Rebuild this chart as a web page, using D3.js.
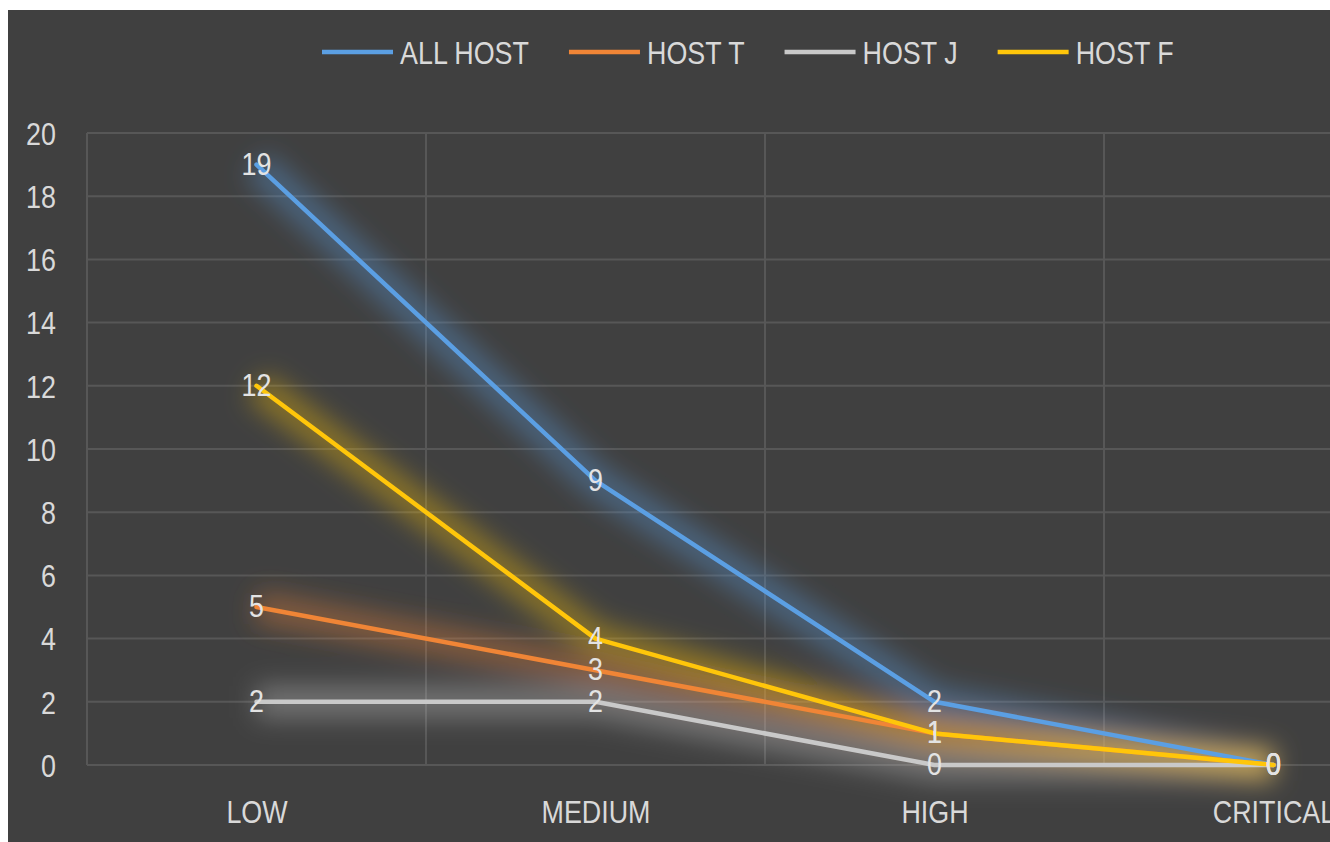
<!DOCTYPE html>
<html>
<head>
<meta charset="utf-8">
<script src="https://cdn.jsdelivr.net/npm/d3@7/dist/d3.min.js"></script>
<style>
  html, body { margin: 0; padding: 0; background: #ffffff; }
  svg { display: block; }
  text { font-family: "Liberation Sans", Arial, sans-serif; }
</style>
</head>
<body>
<svg id="chart" width="1330" height="842"></svg>
<script>
// Severity categories along the x axis
const categories = ["LOW", "MEDIUM", "HIGH", "CRITICAL"];

// Findings per host, one value per category
const allHost = [19, 9, 2, 0];
const hostT   = [5, 3, 1, 0];
const hostJ   = [2, 2, 0, 0];
const hostF   = [12, 4, 1, 0];

const seriesNames  = ["ALL HOST", "HOST T", "HOST J", "HOST F"];
const seriesValues = [allHost, hostT, hostJ, hostF];
const seriesColors = ["#5b9fe3", "#f08536", "#c9c9c9", "#ffc60a"];

const yTicks = [0, 2, 4, 6, 8, 10, 12, 14, 16, 18, 20];

const W = 1330, H = 842;
const NARROW = 0.84;           // horizontal squeeze for a condensed look
const svg = d3.select("#chart");

// Squeeze a text element horizontally, keeping its anchor in place
function condense(sel) {
  sel.each(function () {
    const len = this.getComputedTextLength();
    d3.select(this).attr("textLength", len * NARROW).attr("lengthAdjust", "spacingAndGlyphs");
  });
}

// Dark panel with a thin white margin on the top and left
svg.append("rect").attr("x", 8).attr("y", 10).attr("width", W - 8).attr("height", H - 10)
  .attr("fill", "#404040");

// Plot area runs past the right edge of the panel
const plotLeft = 87, plotRight = 1443, plotTop = 133, plotBottom = 765;

const x = d3.scalePoint().domain(categories).range([plotLeft, plotRight]).padding(0.5);
const y = d3.scaleLinear().domain([0, 20]).range([plotBottom, plotTop]);
const step = x.step();

const defs = svg.append("defs");
const glow = defs.append("filter").attr("id", "glow")
  .attr("filterUnits", "userSpaceOnUse")
  .attr("x", 0).attr("y", 0).attr("width", W).attr("height", H);
glow.append("feGaussianBlur").attr("stdDeviation", 13);

const clip = defs.append("clipPath").attr("id", "panel");
clip.append("rect").attr("x", 8).attr("y", 10).attr("width", W - 8).attr("height", H - 10);

const g = svg.append("g").attr("clip-path", "url(#panel)");

// Horizontal gridlines
g.append("g").selectAll("line").data(yTicks).join("line")
  .attr("x1", plotLeft).attr("x2", plotRight)
  .attr("y1", d => y(d)).attr("y2", d => y(d))
  .attr("stroke", "#575757").attr("stroke-width", 2);

// Vertical gridlines at category boundaries
const bounds = d3.range(categories.length + 1).map(i => plotLeft + i * step);
g.append("g").selectAll("line").data(bounds).join("line")
  .attr("x1", d => d).attr("x2", d => d)
  .attr("y1", plotTop).attr("y2", plotBottom)
  .attr("stroke", "#575757").attr("stroke-width", 2);

// Y axis tick labels
const yAxis = d3.axisLeft(y).tickValues(yTicks).tickSize(0).tickPadding(0);
const ya = g.append("g").attr("transform", "translate(56,0)").call(yAxis);
ya.select(".domain").remove();
ya.selectAll("text").attr("fill", "#d9d9d9").attr("font-size", 32)
  .attr("font-family", "'Liberation Sans', Arial, sans-serif")
  .attr("dy", "0.35em").call(condense);

// X axis category labels
const xAxis = d3.axisBottom(x).tickSize(0).tickPadding(0);
const xa = g.append("g").attr("transform", "translate(0,823)").call(xAxis);
xa.select(".domain").remove();
xa.selectAll("text").attr("fill", "#d9d9d9").attr("font-size", 32)
  .attr("font-family", "'Liberation Sans', Arial, sans-serif")
  .attr("dy", 0).call(condense);

const line = d3.line().x((d, i) => x(categories[i])).y(d => y(d));

// Soft glow beneath each series
const glowLayer = g.append("g").attr("filter", "url(#glow)");
seriesValues.forEach((vals, k) => {
  glowLayer.append("path").attr("d", line(vals))
    .attr("fill", "none").attr("stroke", seriesColors[k])
    .attr("stroke-width", 32).attr("stroke-opacity", 0.38)
    .attr("stroke-linejoin", "round").attr("stroke-linecap", "butt");
});

// Series lines
seriesValues.forEach((vals, k) => {
  g.append("path").attr("d", line(vals))
    .attr("fill", "none").attr("stroke", seriesColors[k])
    .attr("stroke-width", 4.5)
    .attr("stroke-linejoin", "round").attr("stroke-linecap", "round");
});

// Value labels centred on each point
seriesValues.forEach((vals, k) => {
  g.append("g").selectAll("text").data(vals).join("text")
    .attr("x", (d, i) => x(categories[i]))
    .attr("y", d => y(d) + 10)
    .attr("text-anchor", "middle")
    .attr("font-size", 32)
    .attr("fill", "#e3e3e3")
    .text(d => d)
    .call(condense);
});

// Legend across the top
const legend = g.append("g").attr("transform", "translate(322,52)");
let lx = 0;
seriesNames.forEach((name, k) => {
  const item = legend.append("g").attr("transform", `translate(${lx},0)`);
  item.append("line").attr("x1", 0).attr("x2", 71).attr("y1", 0).attr("y2", 0)
    .attr("stroke", seriesColors[k]).attr("stroke-width", 4.5);
  const t = item.append("text").attr("x", 78).attr("y", 12)
    .attr("font-size", 32).attr("fill", "#d9d9d9").text(name);
  const w = t.node().getComputedTextLength() * NARROW;
  t.attr("textLength", w).attr("lengthAdjust", "spacingAndGlyphs");
  lx += 78 + w + 40;
});
</script>
</body>
</html>
